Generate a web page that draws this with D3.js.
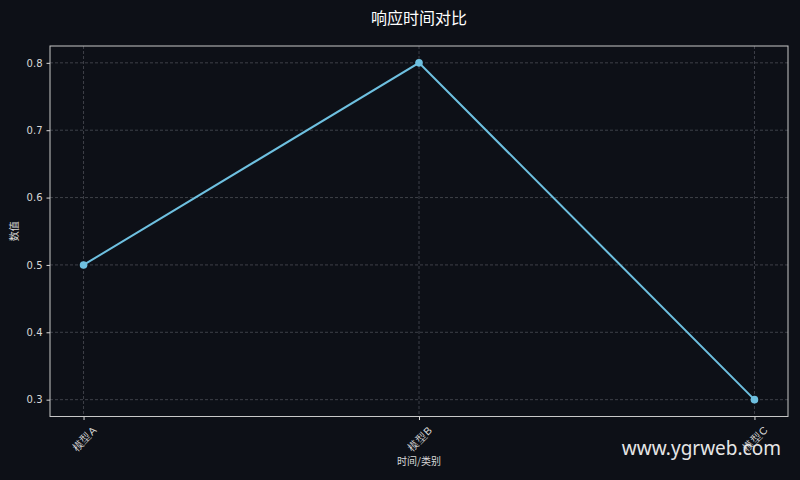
<!DOCTYPE html>
<html><head><meta charset="utf-8">
<script src="https://cdn.jsdelivr.net/npm/d3@7"></script>
<style>body{margin:0;background:#0d1017;}svg{display:block;font-family:"Noto Sans CJK SC","DejaVu Sans",sans-serif;}</style>
</head><body>
<svg id="c" width="800" height="480"></svg>
<script>
const categories = ["模型A", "模型B", "模型C"];
const values = [0.5, 0.8, 0.3];
const yTicks = [0.3, 0.4, 0.5, 0.6, 0.7, 0.8];
const title = "响应时间对比";
const xLabel = "时间/类别";
const yLabel = "数值";

const svg = d3.select("#c");
svg.append("rect").attr("width",800).attr("height",480).attr("fill","#0d1017");
const L=50,R=788,T=46,B=416.5;
const x = d3.scaleLinear().domain([-0.1, categories.length-1+0.1]).range([L,R]);
const y = d3.scaleLinear().domain([0.275,0.825]).range([B,T]);
const gridC="#4a4d55", textC="#d8d8d8";
// grid
svg.append("g").selectAll("line").data(yTicks).join("line")
  .attr("x1",L).attr("x2",R).attr("y1",d=>y(d)).attr("y2",d=>y(d))
  .attr("stroke",gridC).attr("stroke-width",0.8).attr("stroke-dasharray","3,2");
svg.append("g").selectAll("line").data(categories).join("line")
  .attr("x1",(d,i)=>x(i)).attr("x2",(d,i)=>x(i)).attr("y1",T).attr("y2",B)
  .attr("stroke",gridC).attr("stroke-width",0.8).attr("stroke-dasharray","3,2");
// axes
const ya = d3.axisLeft(y).tickValues(yTicks).tickFormat(d3.format(".1f")).tickSize(3.5).tickPadding(4);
const gy = svg.append("g").attr("transform",`translate(${L},0)`).call(ya);
gy.select(".domain").remove();
gy.selectAll("line").attr("stroke",textC);
gy.selectAll("text").attr("fill",textC).attr("font-size",10).attr("font-family","DejaVu Sans");
const xa = d3.axisBottom(x).tickValues(categories.map((d,i)=>i)).tickFormat(i=>categories[i]).tickSize(3.5);
const gx = svg.append("g").attr("transform",`translate(0,${B})`).call(xa);
gx.select(".domain").remove();
gx.selectAll("line").attr("stroke",textC);
gx.selectAll("text").attr("fill",textC).attr("font-size",10.5)
  .attr("text-anchor","middle").attr("dy",null).attr("y",null)
  .attr("dominant-baseline","central")
  .attr("transform","translate(0,22) rotate(-45)");
// frame
svg.append("rect").attr("x",L).attr("y",T).attr("width",R-L).attr("height",B-T)
  .attr("fill","none").attr("stroke","#c8c8c8").attr("stroke-width",1);
// line
const line = d3.line().x((d,i)=>x(i)).y(d=>y(d));
svg.append("path").datum(values).attr("d",line).attr("fill","none")
  .attr("stroke","#6ec0e0").attr("stroke-width",2);
svg.append("g").selectAll("circle").data(values).join("circle")
  .attr("cx",(d,i)=>x(i)).attr("cy",d=>y(d)).attr("r",3.8).attr("fill","#6ec0e0");
// labels
svg.append("text").attr("x",(L+R)/2).attr("y",24).attr("text-anchor","middle")
  .attr("fill","#ffffff").attr("font-size",16).text(title);
svg.append("text").attr("x",(L+R)/2).attr("y",465).attr("text-anchor","middle")
  .attr("fill",textC).attr("font-size",10).text(xLabel);
svg.append("text").attr("transform",`translate(18,${(T+B)/2}) rotate(-90)`).attr("text-anchor","middle")
  .attr("fill",textC).attr("font-size",10).text(yLabel);
svg.append("text").attr("x",781).attr("y",455).attr("text-anchor","end")
  .attr("fill","#e6e6e6").attr("font-size",19).attr("font-family","Noto Sans, DejaVu Sans").text("www.ygrweb.com");
</script>
</body></html>
